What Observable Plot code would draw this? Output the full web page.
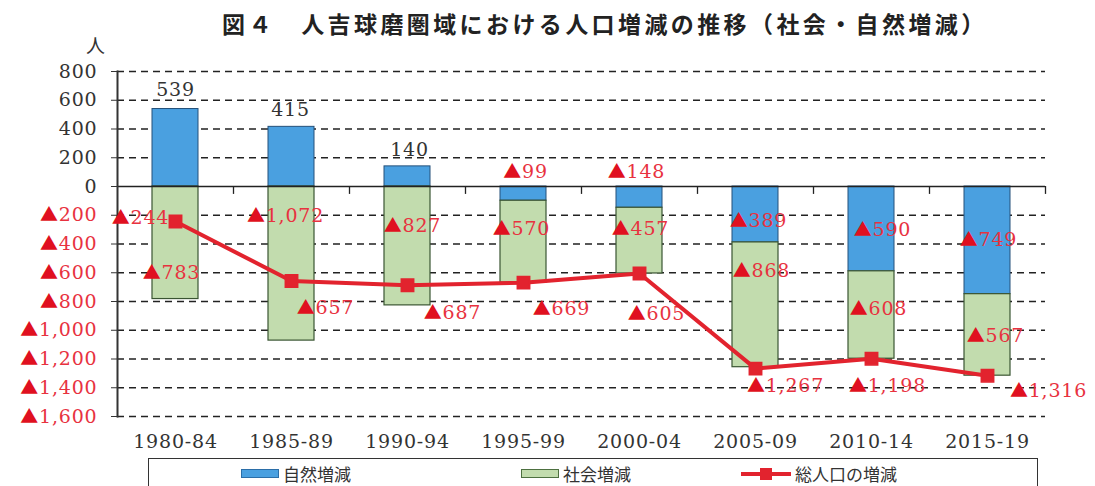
<!DOCTYPE html>
<html><head><meta charset="utf-8">
<script src="https://cdn.jsdelivr.net/npm/d3@7"></script>
<script src="https://cdn.jsdelivr.net/npm/@observablehq/plot@0.6"></script>
<style>
body{margin:0;background:#fff;width:1095px;height:486px;overflow:hidden;position:relative;font-family:"Noto Sans CJK JP",sans-serif;}
#title{position:absolute;left:222px;top:12px;font-size:23px;font-weight:bold;letter-spacing:3.4px;line-height:1;white-space:nowrap;color:#222;z-index:2;}
#unit{position:absolute;left:86px;top:35px;font-size:19px;line-height:1;color:#333;z-index:2;}
#chart{position:absolute;left:0;top:50px;z-index:1;}
#legend{position:absolute;left:148px;top:458px;width:890px;height:40px;border:1.5px solid #333;box-sizing:border-box;}
.item{position:absolute;top:6px;font-size:17px;line-height:1;display:flex;align-items:center;color:#333;white-space:nowrap;}
.sw{display:inline-block;width:38px;height:9px;margin-right:4px;box-sizing:border-box;}
.ln{position:relative;display:inline-block;width:50px;height:14px;margin-right:4px;}
.ln .bar{position:absolute;left:0;top:5px;width:50px;height:4px;}
.ln .sq{position:absolute;left:19px;top:1px;width:12px;height:12px;}
</style></head>
<body>
<div id="title"></div>
<div id="unit">人</div>
<div id="chart"></div>
<div id="legend"></div>
<script>
// ---- data ----
const titleText = "図４　人吉球磨圏域における人口増減の推移（社会・自然増減）";
const periods = ["1980-84","1985-89","1990-94","1995-99","2000-04","2005-09","2010-14","2015-19"];
const seriesNames = ["自然増減","社会増減","総人口の増減"];
const natural = [539, 415, 140, -99, -148, -389, -590, -749];
const social  = [-783, -1072, -827, -570, -457, -868, -608, -567];
const total   = [-244, -657, -687, -669, -605, -1267, -1198, -1316];
const yTicks = [800, 600, 400, 200, 0, -200, -400, -600, -800, -1000, -1200, -1400, -1600];
const yTickLabels = ["800","600","400","200","0","▲200","▲400","▲600","▲800","▲1,000","▲1,200","▲1,400","▲1,600"];

// ---- label nudges (px) ----
const naturalNudge = [[0,-58],[-1,-47],[2,-27],[2,-22],[-3,-25],[3,6],[11,1],[1,0]];
const socialNudge  = [[-4,30],[-6,-48],[5,-20],[-2,-13],[1,-12],[6,-34],[7,-6],[8,1]];
const totalNudge   = [[-35,-4],[34,27],[45,28],[38,26],[17,40],[30,17],[16,27],[61,15]];

// ---- styles ----
const BLUE = "#4aa0e0", GREEN = "#c2dcae", RED = "#e2232e", TXT_RED = "#e8323f";
const NUMFONT = "DejaVu Serif";
const FS = 19;

document.getElementById("title").textContent = titleText;

const fmt = v => v < 0 ? "▲" + d3.format(",")(-v) : String(v);
const nat = periods.map((p,i) => ({period:p, y1:0, y2:natural[i], mid:natural[i]/2, v:natural[i]}));
const soc = periods.map((p,i) => {
  const base = natural[i] < 0 ? natural[i] : 0;
  return {period:p, y1:base, y2:base+social[i], mid:base+social[i]/2, v:social[i]};
});
const tot = periods.map((p,i) => ({period:p, v:total[i]}));

const labelMarks = [];
const addLabels = (rows, key, nudge) => rows.forEach((d,i) => {
  labelMarks.push(Plot.text([d], {x:"period", y:key, text:r => fmt(r.v), dx:nudge[i][0], dy:nudge[i][1],
    fill: d.v < 0 ? TXT_RED : "#333", fontSize:FS, fontFamily:NUMFONT, textAnchor:"middle"}));
});
addLabels(nat, "mid", naturalNudge);
addLabels(soc, "mid", socialNudge);
addLabels(tot, "v", totalNudge);

const lab = d => yTickLabels[yTicks.indexOf(d)];

const chart = Plot.plot({
  width:1095, height:408,
  marginLeft:117, marginRight:50, marginTop:21, marginBottom:42,
  style:"background:transparent;letter-spacing:0.8px;",
  x:{domain:periods, paddingInner:0.6, paddingOuter:0.3, label:null},
  y:{domain:[-1600,800], label:null},
  marks:[
    Plot.ruleY(yTicks.filter(v => v !== 0), {stroke:"#222", strokeWidth:1.3, strokeDasharray:"7,5"}),
    Plot.barY(nat, {x:"period", y1:"y1", y2:"y2", fill:BLUE, stroke:"#24507a", strokeWidth:1}),
    Plot.barY(soc, {x:"period", y1:"y1", y2:"y2", fill:GREEN, stroke:"#3a5532", strokeWidth:1.2}),
    Plot.ruleY([0], {stroke:"#222", strokeWidth:1.5}),
    Plot.ruleX(periods, {x:d => d, y1:0, y2:-55, dx:58, stroke:"#222", strokeWidth:1.3}),
    Plot.frame({anchor:"left", stroke:"#333", strokeWidth:2}),
    Plot.axisY(yTicks.filter(v => v >= 0), {tickSize:6, tickPadding:14, tickFormat:lab, fontSize:FS, fontFamily:NUMFONT, fill:"#333", stroke:"#333", label:null}),
    Plot.axisY(yTicks.filter(v => v < 0), {tickSize:6, tickPadding:14, tickFormat:lab, fontSize:FS, fontFamily:NUMFONT, fill:TXT_RED, stroke:"#333", label:null}),
    Plot.axisX({tickSize:0, tickPadding:18, fontSize:FS, fontFamily:NUMFONT, fill:"#333", label:null}),
    ...labelMarks,
    Plot.line(tot, {x:"period", y:"v", stroke:RED, strokeWidth:4}),
    Plot.dot(tot, {x:"period", y:"v", symbol:"square", r:7, fill:RED, stroke:RED})
  ]
});

// render the ▲ sign as a full-width glyph, as in the original
const NS = "http://www.w3.org/2000/svg";
chart.querySelectorAll("text").forEach(t => {
  if (t.children.length === 0 && t.textContent.startsWith("▲")) {
    const rest = t.textContent.slice(1);
    t.textContent = "";
    const a = document.createElementNS(NS, "tspan");
    a.setAttribute("font-family", "Noto Sans CJK JP");
    a.setAttribute("font-size", "18");
    a.setAttribute("fill", "#e01020");
    a.textContent = "▲";
    const b = document.createElementNS(NS, "tspan");
    b.textContent = rest;
    t.appendChild(a); t.appendChild(b);
  }
});
document.getElementById("chart").appendChild(chart);

// legend
const legend = document.getElementById("legend");
const items = [
  {left:92, html:`<span class="sw" style="background:${BLUE};border:1px solid #2b6ea8"></span>${seriesNames[0]}`},
  {left:372, html:`<span class="sw" style="background:${GREEN};border:1.5px solid #4d7040"></span>${seriesNames[1]}`},
  {left:592, html:`<span class="ln"><span class="bar" style="background:${RED}"></span><span class="sq" style="background:${RED}"></span></span>${seriesNames[2]}`}
];
items.forEach(it => {
  const el = document.createElement("div");
  el.className = "item"; el.style.left = it.left + "px"; el.innerHTML = it.html;
  legend.appendChild(el);
});
</script>
</body></html>
